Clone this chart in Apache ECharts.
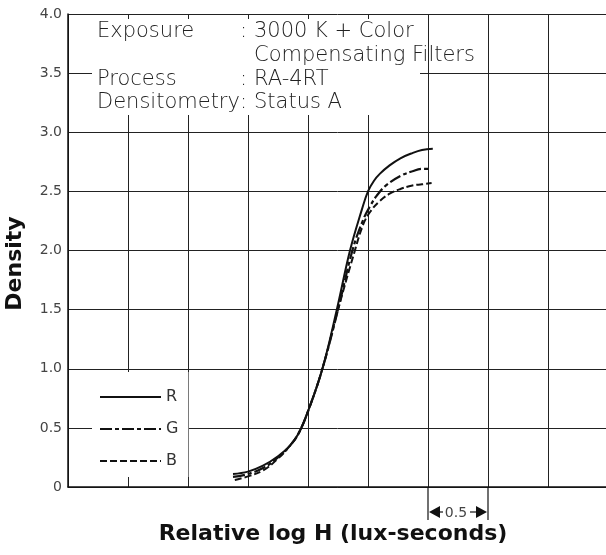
<!DOCTYPE html>
<html>
<head>
<meta charset="utf-8">
<script src="https://cdn.jsdelivr.net/npm/echarts@6/dist/echarts.min.js"></script>
<style>
html, body { margin: 0; padding: 0; background: #fff; }
#chart { width: 606px; height: 555px; }
</style>
</head>
<body>
<div id="chart"></div>
<script>
// characteristic curves (relative log H, density)
const logH_R = [1.375, 1.5, 1.625, 1.75, 1.85, 1.92, 2.0, 2.12, 2.24, 2.35, 2.45, 2.5, 2.55, 2.6, 2.68, 2.77, 2.86, 2.95, 3.04];
const density_R = [0.11, 0.13, 0.18, 0.26, 0.35, 0.45, 0.64, 1.0, 1.5, 2.0, 2.35, 2.5, 2.59, 2.65, 2.72, 2.78, 2.82, 2.85, 2.86];

const logH_G = [1.375, 1.5, 1.625, 1.75, 1.85, 1.92, 2.0, 2.12, 2.25, 2.37, 2.46, 2.52, 2.57, 2.65, 2.77, 2.87, 2.95, 3.01];
const density_G = [0.085, 0.11, 0.16, 0.25, 0.35, 0.45, 0.64, 1.0, 1.5, 2.0, 2.26, 2.38, 2.46, 2.55, 2.63, 2.67, 2.69, 2.69];

const logH_B = [1.39, 1.5, 1.625, 1.75, 1.85, 1.92, 2.0, 2.12, 2.25, 2.385, 2.46, 2.52, 2.6, 2.68, 2.77, 2.87, 2.95, 3.03];
const density_B = [0.06, 0.09, 0.14, 0.24, 0.35, 0.45, 0.64, 1.0, 1.5, 1.98, 2.22, 2.33, 2.42, 2.48, 2.52, 2.55, 2.56, 2.57];

const seriesNames = ['R', 'G', 'B'];
const infoLabels = ['Exposure', '', 'Process', 'Densitometry'];
const infoValues = ['3000 K + Color', 'Compensating Filters', 'RA-4RT', 'Status A'];
const scaleStep = 0.5;   // width of the "0.5" marker under the axis
const scaleFrom = 3.0;

const FONT = 'DejaVu Sans';
const INK = '#111';

const pairs = (xs, ys) => xs.map((x, i) => [x, ys[i]]);

const chart = echarts.init(document.getElementById('chart'));

const lineSeries = (name, xs, ys, width, dash) => ({
    name: name, type: 'line', data: pairs(xs, ys),
    smooth: 0.4, symbol: 'none', showSymbol: false,
    lineStyle: { color: INK, width: width, type: dash },
    itemStyle: { color: INK }
});

const option = {
    animation: false,
    backgroundColor: '#fff',
    grid: { left: 68, top: 14, width: 540, height: 473, outerBoundsMode: 'none' },
    xAxis: {
        type: 'value', min: 0, max: 4.5, interval: 0.5,
        name: 'Relative log H (lux-seconds)',
        nameLocation: 'middle', nameGap: 36,
        nameTextStyle: { fontFamily: FONT, fontWeight: 'bold', fontSize: 22, color: INK, padding: [0, 10, 0, 0] },
        axisLine: { show: true, lineStyle: { color: INK, width: 1.5 } },
        axisTick: { show: false },
        axisLabel: { show: false },
        splitLine: { show: true, lineStyle: { color: '#222', width: 1 } }
    },
    yAxis: {
        type: 'value', min: 0, max: 4, interval: 0.5,
        name: 'Density',
        nameLocation: 'middle', nameGap: 42,
        nameTextStyle: { fontFamily: FONT, fontWeight: 'bold', fontSize: 22, color: INK, padding: [0, 26, 0, 0] },
        axisLine: { show: true, lineStyle: { color: INK, width: 1.5 } },
        axisTick: { show: false },
        axisLabel: {
            fontFamily: FONT, fontSize: 14, color: '#444', margin: 6,
            formatter: v => v === 0 ? '0' : v.toFixed(1)
        },
        splitLine: { show: true, lineStyle: { color: '#222', width: 1 } }
    },
    legend: {
        data: seriesNames.map(n => ({ name: n, itemStyle: { color: 'transparent', borderWidth: 0, opacity: 0 } })),
        orient: 'vertical',
        left: 92, top: 372,
        padding: [17, 10, 8, 7],
        itemWidth: 61, itemHeight: 14, itemGap: 16,
        backgroundColor: '#fff',
        selectedMode: false,
        textStyle: { fontFamily: FONT, fontSize: 16, color: '#333' }
    },
    series: [
        lineSeries('R', logH_R, density_R, 2, 'solid'),
        lineSeries('G', logH_G, density_G, 2.2, [12, 3, 4, 3]),
        lineSeries('B', logH_B, density_B, 2, [7, 3])
    ]
};
chart.setOption(option);

// info box over the top of the grid + the 0.5 scale marker under the x axis
const textStyle = { fontFamily: FONT, fontWeight: 200, fontSize: 21, fill: '#222', textVerticalAlign: 'middle' };
const graphic = [{ type: 'rect', z: 5, shape: { x: 92, y: 19, width: 328, height: 96 }, style: { fill: '#fff' } }];
const rowY = [32, 56, 80, 103];
infoValues.forEach((val, i) => {
    if (infoLabels[i]) {
        graphic.push({ type: 'text', z: 6, x: 97, y: rowY[i], style: Object.assign({ text: infoLabels[i] }, textStyle) });
        graphic.push({ type: 'text', z: 6, x: 240, y: rowY[i], style: Object.assign({ text: ':' }, textStyle) });
    }
    graphic.push({ type: 'text', z: 6, x: 254, y: rowY[i], style: Object.assign({ text: val }, textStyle) });
});

const p0 = chart.convertToPixel({ gridIndex: 0 }, [scaleFrom, 0]);
const p1 = chart.convertToPixel({ gridIndex: 0 }, [scaleFrom + scaleStep, 0]);
const ay = p0[1] + 25;
graphic.push(
    { type: 'line', z: 6, shape: { x1: p0[0], y1: p0[1], x2: p0[0], y2: p0[1] + 33 }, style: { stroke: INK, lineWidth: 1.2 } },
    { type: 'line', z: 6, shape: { x1: p1[0], y1: p1[1], x2: p1[0], y2: p1[1] + 33 }, style: { stroke: INK, lineWidth: 1.2 } },
    { type: 'polygon', z: 6, shape: { points: [[p0[0] + 1, ay], [p0[0] + 12, ay - 6], [p0[0] + 12, ay + 6]] }, style: { fill: INK } },
    { type: 'line', z: 6, shape: { x1: p0[0] + 11, y1: ay, x2: p0[0] + 15, y2: ay }, style: { stroke: INK, lineWidth: 1.2 } },
    { type: 'polygon', z: 6, shape: { points: [[p1[0] - 1, ay], [p1[0] - 12, ay - 6], [p1[0] - 12, ay + 6]] }, style: { fill: INK } },
    { type: 'line', z: 6, shape: { x1: p1[0] - 18, y1: ay, x2: p1[0] - 11, y2: ay }, style: { stroke: INK, lineWidth: 1.2 } },
    {
        type: 'text', z: 6, x: (p0[0] + p1[0]) / 2 - 2, y: ay + 1,
        style: { text: String(scaleStep), fontFamily: FONT, fontSize: 14, fill: '#444', textAlign: 'center', textVerticalAlign: 'middle' }
    }
);
chart.setOption({ graphic: graphic });
</script>
</body>
</html>
